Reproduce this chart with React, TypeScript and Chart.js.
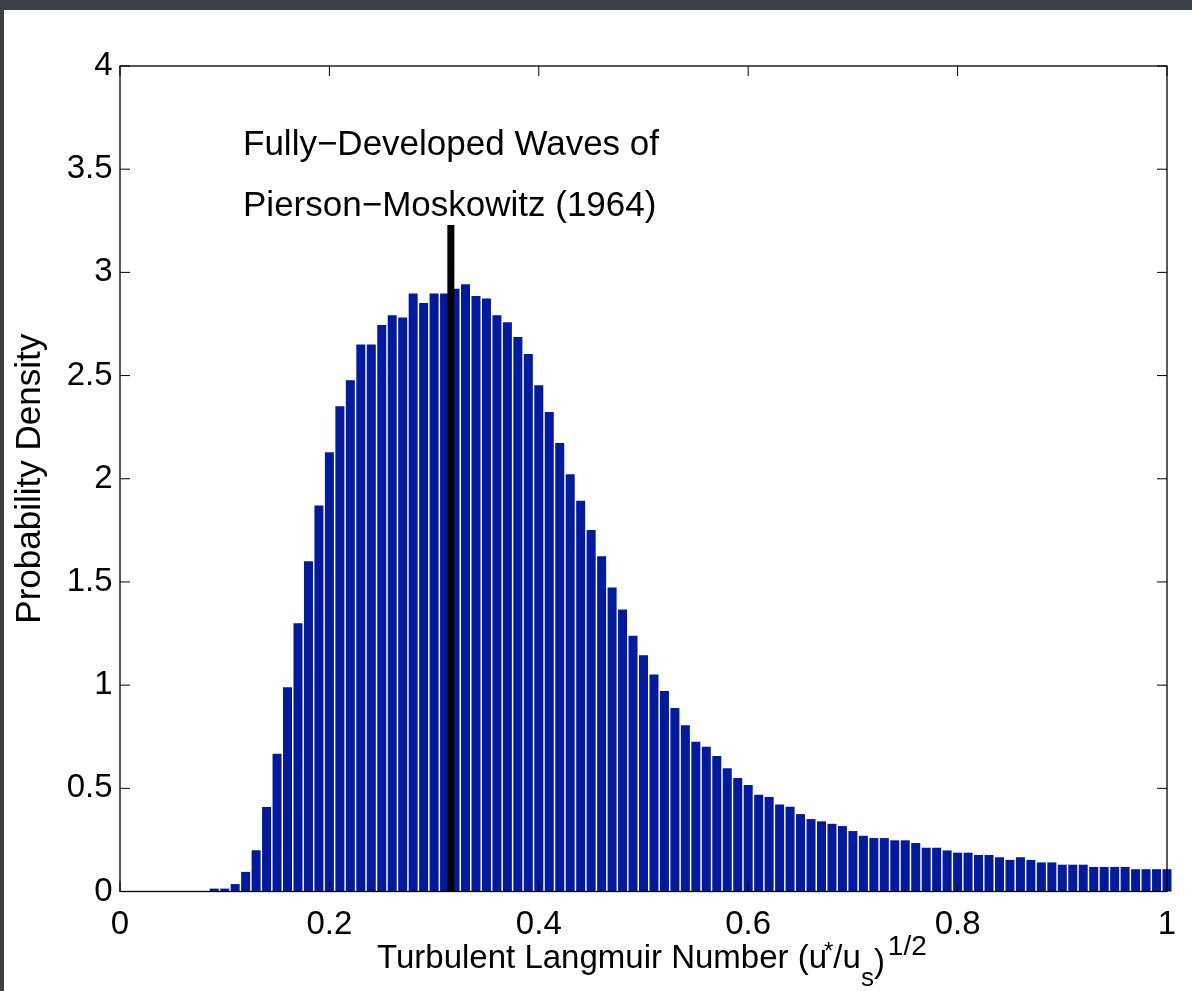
import React, { useEffect, useRef } from "react";
import { Chart, registerables } from "chart.js";

Chart.register(...registerables);

// Bin centres of the histogram (Turbulent Langmuir number)
const binCenters: number[] = [
  0.0, 0.01, 0.02, 0.03, 0.04, 0.05, 0.06, 0.07, 0.08, 0.09,
  0.1, 0.11, 0.12, 0.13, 0.14, 0.15, 0.16, 0.17, 0.18, 0.19,
  0.2, 0.21, 0.22, 0.23, 0.24, 0.25, 0.26, 0.27, 0.28, 0.29,
  0.3, 0.31, 0.32, 0.33, 0.34, 0.35, 0.36, 0.37, 0.38, 0.39,
  0.4, 0.41, 0.42, 0.43, 0.44, 0.45, 0.46, 0.47, 0.48, 0.49,
  0.5, 0.51, 0.52, 0.53, 0.54, 0.55, 0.56, 0.57, 0.58, 0.59,
  0.6, 0.61, 0.62, 0.63, 0.64, 0.65, 0.66, 0.67, 0.68, 0.69,
  0.7, 0.71, 0.72, 0.73, 0.74, 0.75, 0.76, 0.77, 0.78, 0.79,
  0.8, 0.81, 0.82, 0.83, 0.84, 0.85, 0.86, 0.87, 0.88, 0.89,
  0.9, 0.91, 0.92, 0.93, 0.94, 0.95, 0.96, 0.97, 0.98, 0.99,
  1.0,
];

// Probability density
const density: number[] = [
  0, 0, 0, 0, 0, 0, 0, 0, 0, 0.014,
  0.014, 0.036, 0.095, 0.2, 0.41, 0.667, 0.99, 1.3, 1.6, 1.87,
  2.128, 2.351, 2.477, 2.651, 2.651, 2.745, 2.792, 2.781, 2.898, 2.851,
  2.898, 2.898, 2.921, 2.943, 2.886, 2.874, 2.792, 2.758, 2.687, 2.604,
  2.453, 2.324, 2.173, 2.022, 1.893, 1.752, 1.625, 1.473, 1.367, 1.239,
  1.145, 1.052, 0.971, 0.889, 0.806, 0.726, 0.701, 0.656, 0.597, 0.55,
  0.516, 0.469, 0.458, 0.422, 0.411, 0.375, 0.351, 0.34, 0.328, 0.317,
  0.293, 0.27, 0.259, 0.259, 0.248, 0.248, 0.235, 0.212, 0.212, 0.199,
  0.188, 0.188, 0.177, 0.177, 0.166, 0.153, 0.166, 0.153, 0.141, 0.141,
  0.13, 0.13, 0.13, 0.119, 0.119, 0.119, 0.119, 0.108, 0.108, 0.108,
  0.108,
];

// Pierson-Moskowitz marker line
const pmLineX: number[] = [0.316, 0.316];
const pmLineY: number[] = [0, 3.23];

// Annotation text (data coordinates of baseline start)
const annotationLines: string[] = ["Fully\u2212Developed Waves of", "Pierson\u2212Moskowitz (1964)"];
const annotationX: number[] = [0.1175, 0.1175];
const annotationY: number[] = [3.568, 3.273];

const xTickStep = 0.2;
const yTickStep = 0.5;
const yAxisTitle = "Probability Density";

const FONT = '"Liberation Sans", Arial, Helvetica, sans-serif';

const fmt = (v: number) => String(Math.round(v * 100) / 100);

const boxPlugin = {
  id: "matlabBox",
  afterDatasetsDraw(chart: any) {
    const { ctx, chartArea: a, scales } = chart;
    const xs = scales.x;
    const ys = scales.y;
    ctx.save();
    ctx.strokeStyle = "#000";
    ctx.lineWidth = 1.3;
    ctx.strokeRect(a.left, a.top, a.right - a.left, a.bottom - a.top);
    const TL = 10;
    ctx.beginPath();
    xs.ticks.forEach((t: any) => {
      const px = xs.getPixelForValue(t.value);
      ctx.moveTo(px, a.bottom);
      ctx.lineTo(px, a.bottom - TL);
      ctx.moveTo(px, a.top);
      ctx.lineTo(px, a.top + TL);
    });
    ys.ticks.forEach((t: any) => {
      const py = ys.getPixelForValue(t.value);
      ctx.moveTo(a.left, py);
      ctx.lineTo(a.left + TL, py);
      ctx.moveTo(a.right, py);
      ctx.lineTo(a.right - TL, py);
    });
    ctx.lineWidth = 1;
    ctx.stroke();

    // annotation
    ctx.fillStyle = "#000";
    ctx.textAlign = "left";
    ctx.textBaseline = "alphabetic";
    ctx.font = `35px ${FONT}`;
    annotationLines.forEach((s, i) => {
      ctx.fillText(s, xs.getPixelForValue(annotationX[i]), ys.getPixelForValue(annotationY[i]));
    });

    // x-axis title with super/subscripts
    const base = a.bottom + 76.5;
    let x = xs.getPixelForValue(0.2455);
    const parts: { t: string; size: number; dy: number; dx: number; gap: number }[] = [
      { t: "Turbulent Langmuir Number (u", size: 33, dy: 0, dx: 0, gap: 0 },
      { t: "*", size: 24, dy: -9, dx: -3, gap: 0 },
      { t: "/u", size: 33, dy: 0, dx: 0, gap: 0 },
      { t: "s", size: 26, dy: 18, dx: 0, gap: 0 },
      { t: ")", size: 33, dy: 4, dx: 0, gap: 3 },
      { t: "1/2", size: 28, dy: -13, dx: 0, gap: 0 },
    ];
    parts.forEach((p) => {
      ctx.font = `${p.size}px ${FONT}`;
      ctx.fillText(p.t, x + p.dx, base + p.dy);
      x += ctx.measureText(p.t).width + p.dx + p.gap;
    });
    ctx.restore();
  },
};

export default function App() {
  const ref = useRef<HTMLCanvasElement | null>(null);
  useEffect(() => {
    if (!ref.current) return;
    const chart = new Chart(ref.current, {
      type: "bar",
      data: {
        datasets: [
          {
            type: "line",
            data: pmLineX.map((v, i) => ({ x: v, y: pmLineY[i] })),
            borderColor: "#000",
            borderWidth: 7,
            borderCapStyle: "butt",
            pointRadius: 0,
            fill: false,
          } as any,
          {
            type: "bar",
            data: binCenters.map((v, i) => ({ x: v, y: density[i] })),
            backgroundColor: "#021AA0",
            borderWidth: 0,
            barPercentage: 0.86,
            categoryPercentage: 1,
            clip: false,
          } as any,
        ],
      },
      options: {
        responsive: false,
        animation: false,
        events: [],
        layout: { padding: { left: 0, top: 56, right: 25, bottom: 0 }, autoPadding: false },
        plugins: { legend: { display: false }, tooltip: { enabled: false } },
        scales: {
          x: {
            type: "linear",
            min: 0,
            max: 1,
            offset: false,
            ticks: {
              stepSize: xTickStep,
              color: "#000",
              font: { family: FONT, size: 33 },
              padding: 14,
              maxRotation: 0,
              autoSkip: false,
              callback: (v: number) => fmt(v),
            },
            grid: { display: false, drawTicks: false },
            border: { display: false },
            afterFit: (s: any) => {
              s.height = 99.5;
              s.paddingLeft = 0;
              s.paddingRight = 0;
            },
          },
          y: {
            type: "linear",
            min: 0,
            max: 4,
            ticks: {
              stepSize: yTickStep,
              color: "#000",
              font: { family: FONT, size: 33 },
              padding: 7.5,
              callback: (v: number) => fmt(v),
            },
            grid: { display: false, drawTicks: false },
            border: { display: false },
            title: {
              display: true,
              text: yAxisTitle,
              color: "#000",
              font: { family: FONT, size: 35 },
              padding: { top: 5.6, bottom: 0 },
            },
            afterFit: (s: any) => {
              s.width = 116;
              s.paddingTop = 0;
              s.paddingBottom = 0;
            },
          },
        },
      } as any,
      plugins: [boxPlugin],
    });
    return () => chart.destroy();
  }, []);

  return (
    <div
      style={{
        position: "fixed",
        left: 0,
        top: 0,
        width: 1192,
        height: 991,
        background: "#3d4047",
        overflow: "hidden",
      }}
    >
      <div
        style={{
          position: "absolute",
          left: 4,
          top: 10,
          width: 1188,
          height: 981,
          background: "#ffffff",
        }}
      >
        <canvas ref={ref} width={1188} height={981} style={{ display: "block" }} />
      </div>
    </div>
  );
}
